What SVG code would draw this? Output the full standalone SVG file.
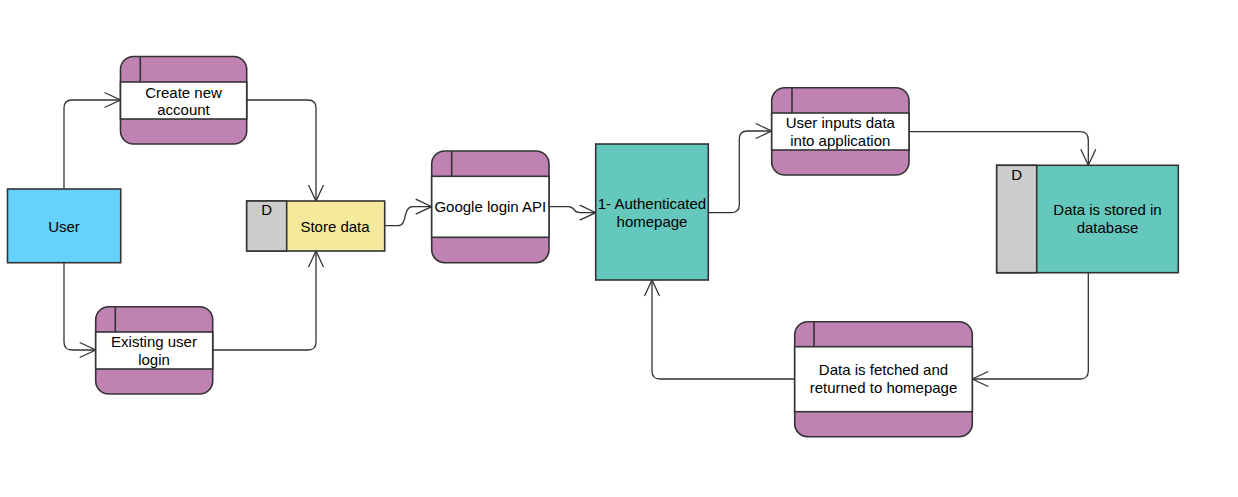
<svg xmlns="http://www.w3.org/2000/svg" width="1238" height="497" viewBox="0 0 1238 497">
<style>
.lbl{font-family:"Liberation Sans",Arial,sans-serif;font-size:15px;fill:#000;text-anchor:middle}
.box{stroke:#333;stroke-width:1.6}
.proc{fill:#BF82B2;stroke:#333;stroke-width:1.6}
.band{fill:#fff;stroke:#333;stroke-width:1.6}
.edge{fill:none;stroke:#333;stroke-width:1.3}
</style>
<defs>
<marker id="arr" markerUnits="userSpaceOnUse" markerWidth="20" markerHeight="20" viewBox="-18 -10 20 20" refX="0" refY="0" orient="auto">
<path d="M-16,-7.5 L0,0 L-16,7.5" fill="none" stroke="#333" stroke-width="1.3"/>
</marker>
</defs>
<rect width="1238" height="497" fill="#fff"/>
<g id="connectors">
<path class="edge" marker-end="url(#arr)" d="M64,189 V108 Q64,100 72,100 H120.5"/>
<path class="edge" marker-end="url(#arr)" d="M64,263 V342 Q64,350 72,350 H95.7"/>
<path class="edge" marker-end="url(#arr)" d="M246.7,100 H308 Q316,100 316,108 V201"/>
<path class="edge" marker-end="url(#arr)" d="M212.7,350 H308 Q316,350 316,342 V251"/>
<path class="edge" marker-end="url(#arr)" d="M384.7,225.7 H398 C408,225.7 402,206.7 413,206.7 H431.7"/>
<path class="edge" marker-end="url(#arr)" d="M549,206.7 H568 C576,206.7 572,212.7 580,212.7 H595.7"/>
<path class="edge" marker-end="url(#arr)" d="M708.3,212.7 H731 Q739.3,212.7 739.3,204.7 V139 Q739.3,131 747.3,131 H771.7"/>
<path class="edge" marker-end="url(#arr)" d="M909,131.7 H1080 Q1088.3,131.7 1088.3,139.7 V165.3"/>
<path class="edge" marker-end="url(#arr)" d="M1088.3,272.7 V371 Q1088.3,379 1080.3,379 H972.3"/>
<path class="edge" marker-end="url(#arr)" d="M794.7,379 H660 Q652,379 652,371 V280"/>
</g>
<g id="user">
<rect class="box" x="7.5" y="189" width="113.2" height="73.7" fill="#64D2FC"/>
<text class="lbl" x="64" y="231.5">User</text>
</g>
<g id="create-account">
<rect class="proc" x="120.5" y="56.5" width="126.2" height="87.5" rx="13"/>
<rect class="band" x="120.5" y="82" width="126.2" height="37"/>
<line class="box" x1="140.3" y1="56.5" x2="140.3" y2="82"/>
<text class="lbl" x="183.5" y="97.5">Create new</text>
<text class="lbl" x="183.5" y="115.3">account</text>
</g>
<g id="existing-login">
<rect class="proc" x="95.7" y="306.7" width="117" height="87.3" rx="13"/>
<rect class="band" x="95.7" y="332" width="117" height="37"/>
<line class="box" x1="115.3" y1="306.7" x2="115.3" y2="332"/>
<text class="lbl" x="154" y="347.3">Existing user</text>
<text class="lbl" x="154" y="365">login</text>
</g>
<g id="store-data">
<rect class="box" x="246.7" y="201" width="138" height="50" fill="#F5EA9B"/>
<rect class="box" x="246.7" y="201" width="40" height="50" fill="#CCCCCC"/>
<text class="lbl" x="266.7" y="215">D</text>
<text class="lbl" x="335" y="231.5">Store data</text>
</g>
<g id="google-login">
<rect class="proc" x="431.7" y="151" width="117.3" height="111.7" rx="13"/>
<rect class="band" x="431.7" y="176.3" width="117.3" height="61"/>
<line class="box" x1="451.7" y1="151" x2="451.7" y2="176.3"/>
<text class="lbl" x="490.3" y="212">Google login API</text>
</g>
<g id="auth-homepage">
<rect class="box" x="595.7" y="144" width="112.6" height="136" fill="#65C8BC"/>
<text class="lbl" x="652" y="209">1- Authenticated</text>
<text class="lbl" x="652" y="226.7">homepage</text>
</g>
<g id="user-inputs">
<rect class="proc" x="771.7" y="87.7" width="137.3" height="87.3" rx="13"/>
<rect class="band" x="771.7" y="113" width="137.3" height="37"/>
<line class="box" x1="792" y1="87.7" x2="792" y2="113"/>
<text class="lbl" x="840.3" y="128">User inputs data</text>
<text class="lbl" x="840.3" y="146">into application</text>
</g>
<g id="database">
<rect class="box" x="996.7" y="165.3" width="181.6" height="107.4" fill="#65C8BC"/>
<rect class="box" x="996.7" y="165.3" width="40" height="107.4" fill="#CCCCCC"/>
<text class="lbl" x="1016.7" y="179.5">D</text>
<text class="lbl" x="1107.5" y="215">Data is stored in</text>
<text class="lbl" x="1107.5" y="232.7">database</text>
</g>
<g id="data-fetched">
<rect class="proc" x="794.7" y="321.7" width="177.6" height="115" rx="13"/>
<rect class="band" x="794.7" y="346.7" width="177.6" height="65"/>
<line class="box" x1="814" y1="321.7" x2="814" y2="346.7"/>
<text class="lbl" x="883.5" y="375">Data is fetched and</text>
<text class="lbl" x="883.5" y="393">returned to homepage</text>
</g>
</svg>
